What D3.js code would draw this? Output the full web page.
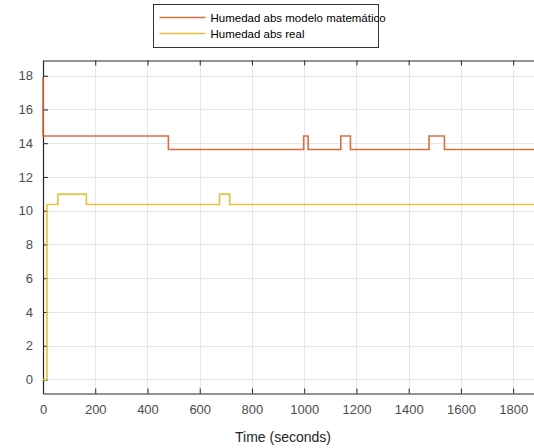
<!DOCTYPE html>
<html>
<head>
<meta charset="utf-8">
<script src="https://cdn.jsdelivr.net/npm/d3@7"></script>
<style>
  body { margin: 0; background: #fff; }
  text { font-family: "Liberation Sans", Arial, sans-serif; }
</style>
</head>
<body>
<div id="chart"></div>
<script>
"use strict";

// step series (time in seconds, value)
const modeloTimes = [0, 0, 480, 998, 1015, 1140, 1177, 1478, 1537, 1900];
const modeloValues = [17.9, 14.43, 13.63, 14.43, 13.63, 14.43, 13.63, 14.43, 13.63, 13.63];
const realTimes = [0, 15, 57, 166, 676, 715, 1900];
const realValues = [0, 10.37, 10.98, 10.37, 10.98, 10.37, 10.37];

const xTicks = [0, 200, 400, 600, 800, 1000, 1200, 1400, 1600, 1800];
const yTicks = [0, 2, 4, 6, 8, 10, 12, 14, 16, 18];
const seriesNames = ["Humedad abs modelo matemático", "Humedad abs real"];
const seriesColors = ["#dc6d3f", "#e8c23c"];

const width = 534;
const height = 448;
const plot = { left: 43, top: 60.5, bottom: 393.5 };

const svg = d3.select("#chart")
    .append("svg")
    .attr("width", width)
    .attr("height", height);

const x = d3.scaleLinear().domain([0, 1900]).range([plot.left, plot.left + 1900 * 0.2612]);
const y = d3.scaleLinear().domain([-0.83, 18.9]).range([plot.bottom, plot.top]);

// grid
const grid = svg.append("g").attr("stroke", "#e6e6e6").attr("stroke-width", 1);
grid.selectAll(".gx")
    .data(xTicks.slice(1))
    .join("line")
    .attr("x1", (d) => Math.round(x(d)) + 0.5)
    .attr("x2", (d) => Math.round(x(d)) + 0.5)
    .attr("y1", plot.top)
    .attr("y2", plot.bottom);
grid.selectAll(".gy")
    .data(yTicks)
    .join("line")
    .attr("x1", plot.left)
    .attr("x2", width)
    .attr("y1", (d) => Math.round(y(d)) + 0.5)
    .attr("y2", (d) => Math.round(y(d)) + 0.5);

// axes, ticks pointing inward like the original
const axisColor = "#262626";
const fmt = d3.format("d");
const bottomAxis = svg.append("g")
    .attr("transform", `translate(0,${plot.bottom})`)
    .call(d3.axisBottom(x).tickValues(xTicks).tickFormat(fmt)
        .tickSizeInner(-5).tickSizeOuter(0).tickPadding(11));
const topAxis = svg.append("g")
    .attr("transform", `translate(0,${plot.top})`)
    .call(d3.axisTop(x).tickValues(xTicks).tickSizeInner(-5).tickSizeOuter(0).tickFormat(""));
const leftAxis = svg.append("g")
    .attr("transform", `translate(${plot.left},0)`)
    .call(d3.axisLeft(y).tickValues(yTicks).tickFormat(fmt)
        .tickSizeInner(-5).tickSizeOuter(0).tickPadding(10));

[bottomAxis, topAxis, leftAxis].forEach((axis) => {
    axis.select(".domain").attr("stroke", axisColor).attr("stroke-width", 1.2);
    axis.selectAll(".tick line").attr("stroke", axisColor);
    axis.selectAll(".tick text")
        .attr("fill", "#4d4d4d")
        .attr("font-size", 13)
        .attr("font-family", "\"Liberation Sans\", Arial, sans-serif");
});

svg.append("text")
    .attr("x", 283)
    .attr("y", 442)
    .attr("text-anchor", "middle")
    .attr("fill", "#262626")
    .attr("font-size", 14)
    .text("Time (seconds)");

// step lines
const line = d3.line()
    .x((d) => x(d[0]))
    .y((d) => y(d[1]))
    .curve(d3.curveStepAfter);

const series = [
    d3.zip(modeloTimes, modeloValues),
    d3.zip(realTimes, realValues)
];

svg.append("g")
    .selectAll("path")
    .data(series)
    .join("path")
    .attr("d", line)
    .attr("fill", "none")
    .attr("stroke", (d, i) => seriesColors[i])
    .attr("stroke-width", 1.6);

// legend
const legend = svg.append("g").attr("transform", "translate(153.5,4.5)");
legend.append("rect")
    .attr("width", 225)
    .attr("height", 43)
    .attr("fill", "#fff")
    .attr("stroke", "#333")
    .attr("stroke-width", 1);
const rows = legend.selectAll(".row")
    .data(seriesNames)
    .join("g")
    .attr("transform", (d, i) => `translate(0,${13 + i * 16})`);
rows.append("line")
    .attr("x1", 6)
    .attr("x2", 52)
    .attr("stroke", (d, i) => seriesColors[i])
    .attr("stroke-width", 1.4);
rows.append("text")
    .attr("x", 57)
    .attr("dy", "0.35em")
    .attr("font-size", 11.5)
    .attr("fill", "#000")
    .text((d) => d);
</script>
</body>
</html>
